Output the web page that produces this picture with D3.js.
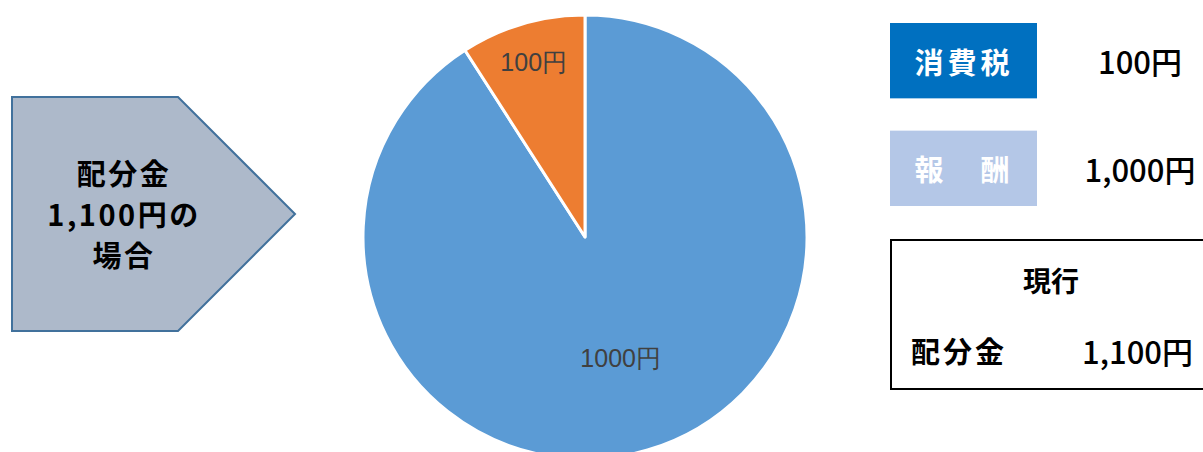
<!DOCTYPE html>
<html>
<head>
<meta charset="utf-8">
<script src="https://cdn.jsdelivr.net/npm/d3@7"></script>
<style>
body { margin: 0; background: #fff; }
svg { display: block; }
</style>
</head>
<body>
<div id="chart"></div>
<script>
"use strict";
var w = 1203;
var h = 452;

// pie data (blue first, then orange, clockwise from 12 o'clock)
var categories = ["報酬", "消費税"];
var values = [1000, 100];
var sliceLabels = ["1000円", "100円"];

// legend on the right
var legendNames = ["消費税", "報　酬"];
var legendValues = ["100円", "1,000円"];
var arrowLines = ["配分金", "1,100円の", "場合"];
var totalTitle = "現行";
var totalName = "配分金";
var totalValue = "1,100円";

var jp = "'Noto Sans CJK JP', 'Noto Sans', sans-serif";

var svg = d3.select("#chart")
    .append("svg")
    .attr("width", w)
    .attr("height", h);

// left arrow shape
var arrow = d3.path();
arrow.moveTo(12, 97);
arrow.lineTo(178, 97);
arrow.lineTo(295, 214);
arrow.lineTo(178, 331);
arrow.lineTo(12, 331);
arrow.closePath();
svg.append("path")
    .attr("d", arrow.toString())
    .attr("fill", "#adb9ca")
    .attr("stroke", "#41719c")
    .attr("stroke-width", 2);

svg.append("g")
    .selectAll("text")
    .data(arrowLines)
    .enter()
    .append("text")
    .attr("x", 124)
    .attr("y", function(d, i){ return 172 + i * 41; })
    .attr("text-anchor", "middle")
    .attr("dominant-baseline", "central")
    .style("font-family", jp)
    .style("font-weight", "bold")
    .style("font-size", "29px")
    .style("letter-spacing", "2.5px")
    .text(function(d){ return d; });

// pie
var cx = 585, cy = 237, r = 222;
var color = d3.scaleOrdinal()
    .domain(categories)
    .range(["#5b9bd5", "#ed7d31"]);

var pie = d3.pie().sort(null);
var arcs = pie(values);
var arc = d3.arc().innerRadius(0).outerRadius(r);

var g = svg.append("g").attr("transform", "translate(" + cx + "," + cy + ")");
g.selectAll("path")
    .data(arcs)
    .enter()
    .append("path")
    .attr("d", arc)
    .attr("fill", function(d, i){ return color(categories[i]); })
    .attr("stroke", "#fff")
    .attr("stroke-width", 3)
    .attr("stroke-linejoin", "round");

// labels: big slice sits lower, small slice near the rim
var labelRadius = [0.57, 0.82];
g.selectAll("text")
    .data(arcs)
    .enter()
    .append("text")
    .attr("transform", function(d, i){
        var la = d3.arc().innerRadius(r * labelRadius[i]).outerRadius(r * labelRadius[i]);
        return "translate(" + la.centroid(d) + ")";
    })
    .attr("text-anchor", "middle")
    .attr("dominant-baseline", "central")
    .attr("fill", "#404040")
    .style("font-family", "'Liberation Sans Narrow', 'Liberation Sans', sans-serif")
    .style("font-size", "25px")
    .text(function(d, i){ return sliceLabels[i]; });

// legend boxes
var legendColor = ["#0070c0", "#b4c7e7"];
var ly = d3.scaleBand().domain(legendNames).range([23, 206]).paddingInner(0.3);
var leg = svg.append("g");
leg.selectAll("rect")
    .data(legendNames)
    .enter()
    .append("rect")
    .attr("x", 890)
    .attr("y", function(d){ return ly(d); })
    .attr("width", 147)
    .attr("height", ly.bandwidth())
    .attr("fill", function(d, i){ return legendColor[i]; });
leg.selectAll("text.name")
    .data(legendNames)
    .enter()
    .append("text")
    .attr("class", "name")
    .attr("x", 964)
    .attr("y", function(d){ return ly(d) + ly.bandwidth() / 2; })
    .attr("text-anchor", "middle")
    .attr("dominant-baseline", "central")
    .attr("fill", "#fff")
    .style("font-family", jp)
    .style("font-weight", "bold")
    .style("font-size", "29px")
    .style("letter-spacing", "4px")
    .text(function(d){ return d; });
leg.selectAll("text.val")
    .data(legendValues)
    .enter()
    .append("text")
    .attr("class", "val")
    .attr("x", 1140)
    .attr("y", function(d, i){ return ly(legendNames[i]) + ly.bandwidth() / 2; })
    .attr("text-anchor", "middle")
    .attr("dominant-baseline", "central")
    .attr("fill", "#000")
    .style("font-family", jp)
    .style("font-weight", "500")
    .style("font-size", "31px")
    .text(function(d){ return d; });

// current total box
svg.append("rect")
    .attr("x", 891)
    .attr("y", 240)
    .attr("width", 330)
    .attr("height", 149)
    .attr("fill", "none")
    .attr("stroke", "#000")
    .attr("stroke-width", 2);
svg.append("text")
    .attr("x", 1051)
    .attr("y", 280)
    .attr("text-anchor", "middle")
    .attr("dominant-baseline", "central")
    .style("font-family", jp)
    .style("font-weight", "bold")
    .style("font-size", "28px")
    .text(totalTitle);
svg.append("text")
    .attr("x", 911)
    .attr("y", 350)
    .attr("dominant-baseline", "central")
    .style("font-family", jp)
    .style("font-weight", "bold")
    .style("font-size", "29px")
    .style("letter-spacing", "3px")
    .text(totalName);
svg.append("text")
    .attr("x", 1193)
    .attr("y", 350)
    .attr("text-anchor", "end")
    .attr("dominant-baseline", "central")
    .style("font-family", jp)
    .style("font-weight", "500")
    .style("font-size", "31px")
    .text(totalValue);
</script>
</body>
</html>
